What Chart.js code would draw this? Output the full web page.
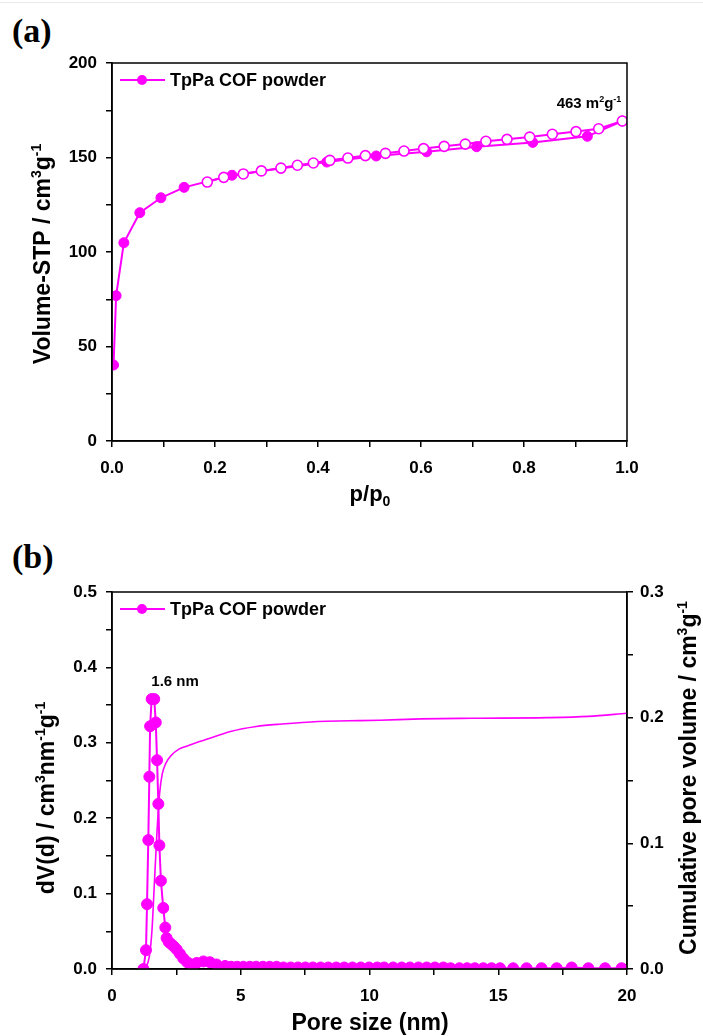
<!DOCTYPE html>
<html>
<head>
<meta charset="utf-8">
<script src="https://cdn.jsdelivr.net/npm/chart.js@4.4.1/dist/chart.umd.min.js"></script>
<style>
  html, body { margin: 0; padding: 0; background: #fff; }
  body { width: 703px; height: 1036px; position: relative; overflow: hidden; }
  .topline { position: absolute; left: 0; top: 2px; width: 703px; height: 1px; background: #e9e9e9; }
  .panel { position: absolute; left: 12px; font-family: "Liberation Serif", "Times New Roman", serif;
           font-weight: bold; font-size: 34px; line-height: 1; color: #000; }
  .wrap { position: absolute; left: 0; width: 703px; height: 518px; }
  canvas { display: block; }
</style>
</head>
<body>
<div class="topline"></div>
<div class="panel" style="top:14px">(a)</div>
<div class="panel" style="top:540px">(b)</div>
<div class="wrap" style="top:0"><canvas id="isoChart" width="703" height="518"></canvas></div>
<div class="wrap" style="top:518px"><canvas id="poreChart" width="703" height="518"></canvas></div>

<script>
// ---- (a) N2 isotherm of TpPa COF powder ----
const adsP = [0.003, 0.008, 0.023, 0.054, 0.095, 0.140, 0.233, 0.417, 0.513, 0.611, 0.708, 0.817, 0.923, 0.991];
const adsV = [40.2, 76.9, 104.9, 120.8, 128.7, 134.2, 140.6, 147.6, 150.8, 153.0, 155.7, 158.0, 161.2, 169.3];
const desP = [0.991, 0.945, 0.901, 0.855, 0.811, 0.767, 0.726, 0.686, 0.645, 0.605, 0.567, 0.531,
              0.492, 0.458, 0.423, 0.391, 0.360, 0.328, 0.290, 0.255, 0.217, 0.185];
const desV = [169.3, 165.2, 163.7, 162.3, 160.8, 159.6, 158.6, 157.1, 155.9, 154.7, 153.4, 152.2,
              151.0, 149.7, 148.5, 147.1, 145.9, 144.4, 142.9, 141.3, 139.5, 137.0];
const isoYTicks = [0, 50, 100, 150, 200];
const isoXTicks = [0.0, 0.2, 0.4, 0.6, 0.8, 1.0];

// ---- (b) pore size distribution ----
const poreD = [1.22, 1.32, 1.36, 1.41, 1.45, 1.48, 1.54, 1.64, 1.70, 1.75, 1.80, 1.84, 1.90, 1.99,
               2.07, 2.12, 2.20, 2.30, 2.40, 2.51, 2.64, 2.77, 2.92, 3.09, 3.29, 3.55, 3.80, 4.06,
               4.39, 4.62, 4.86, 5.10, 5.35, 5.60, 5.86, 6.12, 6.39, 6.66, 6.94, 7.22, 7.51, 7.80,
               8.10, 8.40, 8.71, 9.02, 9.34, 9.66, 9.98, 10.30, 10.57, 10.92, 11.25, 11.57, 11.90,
               12.22, 12.54, 12.87, 13.15, 13.49, 13.79, 14.09, 14.42, 14.74, 15.07, 15.58, 16.10,
               16.68, 17.27, 17.85, 18.50, 19.15, 19.79];
const poreDV = [0.000, 0.025, 0.086, 0.171, 0.255, 0.322, 0.358, 0.358, 0.327, 0.277, 0.219, 0.164, 0.117, 0.081,
                0.055, 0.041, 0.036, 0.033, 0.030, 0.026, 0.020, 0.014, 0.009, 0.006, 0.008, 0.010, 0.009, 0.006,
                0.004, 0.003, 0.003, 0.003, 0.003, 0.003, 0.003, 0.003, 0.003, 0.002, 0.002, 0.002, 0.002, 0.002,
                0.002, 0.002, 0.002, 0.002, 0.002, 0.002, 0.002, 0.002, 0.002, 0.002, 0.002, 0.002, 0.002,
                0.002, 0.002, 0.002, 0.001, 0.001, 0.001, 0.001, 0.001, 0.001, 0.001, 0.001, 0.001,
                0.001, 0.001, 0.002, 0.001, 0.001, 0.001];
const cumD = [1.30, 1.45, 1.55, 1.65, 1.75, 1.85, 1.95, 2.10, 2.30, 2.60, 3.00, 3.40, 4.00, 4.60,
              5.60, 6.60, 8.00, 9.20, 10.40, 12.00, 14.00, 16.90, 18.50, 20.00];
const cumV = [0.000, 0.010, 0.030, 0.070, 0.110, 0.140, 0.155, 0.164, 0.170, 0.175, 0.178, 0.181, 0.185, 0.189,
              0.193, 0.195, 0.197, 0.1975, 0.198, 0.199, 0.1995, 0.200, 0.201, 0.2035];

const MAGENTA = '#ff00ff';
const FONT = '"Liberation Sans", Arial, Helvetica, sans-serif';
const zip = (xs, ys) => xs.map((x, i) => ({ x: x, y: ys[i] }));

// Text with super/subscript pieces, centred on (x, y), optionally rotated
function richText(ctx, parts, x, y, rot, size) {
  ctx.save();
  ctx.translate(x, y);
  ctx.rotate(rot);
  const fonts = parts.map(p => `bold ${p.s ? Math.round(size * 0.62) : size}px ${FONT}`);
  const widths = parts.map((p, i) => { ctx.font = fonts[i]; return ctx.measureText(p.t).width; });
  const total = widths.reduce((a, b) => a + b, 0);
  let cx = -total / 2;
  ctx.fillStyle = '#000';
  ctx.textAlign = 'left';
  ctx.textBaseline = 'alphabetic';
  parts.forEach((p, i) => {
    ctx.font = fonts[i];
    const dy = p.s === 'sup' ? -size * 0.42 : (p.s === 'sub' ? size * 0.22 : 0);
    ctx.fillText(p.t, cx, size * 0.36 + dy);
    cx += widths[i];
  });
  ctx.restore();
}

function legendEntry(ctx, x, y, label) {
  ctx.save();
  ctx.strokeStyle = MAGENTA;
  ctx.lineWidth = 2;
  ctx.beginPath(); ctx.moveTo(x, y); ctx.lineTo(x + 45, y); ctx.stroke();
  ctx.fillStyle = MAGENTA;
  ctx.beginPath(); ctx.arc(x + 22, y, 5, 0, Math.PI * 2); ctx.fill();
  ctx.fillStyle = '#000';
  ctx.font = `bold 18px ${FONT}`;
  ctx.textBaseline = 'middle';
  ctx.fillText(label, x + 50, y + 1);
  ctx.restore();
}

function frame(chart) {
  const a = chart.chartArea, ctx = chart.ctx;
  ctx.save();
  ctx.strokeStyle = '#000';
  ctx.lineWidth = 1.5;
  ctx.strokeRect(a.left, a.top, a.right - a.left, a.bottom - a.top);
  ctx.restore();
}

function axisBase(min, max, step, labelFn, pad, extra) {
  return Object.assign({
    type: 'linear', min: min, max: max,
    grid: { display: true, drawOnChartArea: false, drawTicks: true, tickLength: 6, color: '#000', lineWidth: 1.5 },
    border: { display: true, color: '#000', width: 1.5 },
    ticks: { stepSize: step, autoSkip: false, maxRotation: 0, color: '#000', padding: pad,
             font: { family: FONT, size: 17, weight: 'bold' }, callback: labelFn }
  }, extra || {});
}

const near = (v, list) => list.some(t => Math.abs(t - v) < 1e-6);
const tenth = v => Math.abs(Math.round(v * 10) - v * 10) < 1e-6;

// ---------- chart (a) ----------
new Chart(document.getElementById('isoChart'), {
  type: 'line',
  data: {
    datasets: [
      { label: 'Adsorption', data: zip(adsP, adsV), order: 2,
        borderColor: MAGENTA, borderWidth: 2, backgroundColor: MAGENTA,
        pointRadius: 5, pointBackgroundColor: MAGENTA, pointBorderColor: MAGENTA, pointBorderWidth: 1 },
      { label: 'Desorption', data: zip(desP, desV), order: 1,
        borderColor: MAGENTA, borderWidth: 2, backgroundColor: '#fff',
        pointRadius: 5, pointBackgroundColor: '#fff', pointBorderColor: MAGENTA, pointBorderWidth: 1.6 }
    ]
  },
  options: {
    responsive: false, animation: false,
    layout: { padding: { top: 63, right: 76, left: 0, bottom: 0 } },
    plugins: { legend: { display: false }, tooltip: { enabled: false } },
    scales: {
      x: axisBase(0, 1, 0.1, v => near(v, isoXTicks) ? v.toFixed(1) : '', 11,
                  { afterFit: s => { s.height = 77; } }),
      y: axisBase(0, 200, 25, v => near(v, isoYTicks) ? String(v) : '', 9,
                  { afterFit: s => { s.width = 112; } })
    }
  },
  plugins: [{
    id: 'isoDecor',
    afterDraw(chart) {
      const ctx = chart.ctx;
      frame(chart);
      legendEntry(ctx, 120, 80, 'TpPa COF powder');
      richText(ctx, [{ t: '463 m' }, { t: '2', s: 'sup' }, { t: 'g' }, { t: '-1', s: 'sup' }],
               589, 103, 0, 15);
      richText(ctx, [{ t: 'p/p' }, { t: '0', s: 'sub' }], 370, 493, 0, 22);
      richText(ctx, [{ t: 'Volume-STP / cm' }, { t: '3', s: 'sup' }, { t: 'g' }, { t: '-1', s: 'sup' }],
               42, 254, -Math.PI / 2, 23);
    }
  }]
});

// ---------- chart (b) ----------
new Chart(document.getElementById('poreChart'), {
  type: 'line',
  data: {
    datasets: [
      { label: 'dV(d)', data: zip(poreD, poreDV), yAxisID: 'y', order: 1,
        borderColor: MAGENTA, borderWidth: 2, backgroundColor: MAGENTA,
        pointRadius: 5.5, pointBackgroundColor: MAGENTA, pointBorderColor: MAGENTA, pointBorderWidth: 1 },
      { label: 'Cumulative', data: zip(cumD, cumV), yAxisID: 'y2', order: 2,
        borderColor: MAGENTA, borderWidth: 1.6, pointRadius: 0, cubicInterpolationMode: 'monotone' }
    ]
  },
  options: {
    responsive: false, animation: false,
    layout: { padding: { top: 74, right: 0, left: 0, bottom: 0 } },
    plugins: { legend: { display: false }, tooltip: { enabled: false } },
    scales: {
      x: axisBase(0, 20, 2.5, v => (Math.abs(v % 5) < 1e-6) ? String(v) : '', 11,
                  { afterFit: s => { s.height = 67; } }),
      y: axisBase(0, 0.5, 0.05, v => tenth(v) ? v.toFixed(1) : '', 9,
                  { position: 'left', afterFit: s => { s.width = 112; } }),
      y2: axisBase(0, 0.3, 0.05, v => tenth(v) ? v.toFixed(1) : '', 7,
                  { position: 'right', afterFit: s => { s.width = 76; } })
    }
  },
  plugins: [{
    id: 'poreDecor',
    afterDraw(chart) {
      const ctx = chart.ctx;
      frame(chart);
      legendEntry(ctx, 120, 91, 'TpPa COF powder');
      const xs = chart.scales.x, ys = chart.scales.y;
      richText(ctx, [{ t: '1.6 nm' }], xs.getPixelForValue(2.45), ys.getPixelForValue(0.382), 0, 15);
      richText(ctx, [{ t: 'Pore size (nm)' }], 370, 504, 0, 23);
      richText(ctx, [{ t: 'dV(d) / cm' }, { t: '3', s: 'sup' }, { t: 'nm' }, { t: '-1', s: 'sup' },
                     { t: 'g' }, { t: '-1', s: 'sup' }], 46, 280, -Math.PI / 2, 23);
      richText(ctx, [{ t: 'Cumulative pore volume / cm' }, { t: '3', s: 'sup' }, { t: 'g' }, { t: '-1', s: 'sup' }],
               688, 260, -Math.PI / 2, 23);
    }
  }]
});
</script>
</body>
</html>
